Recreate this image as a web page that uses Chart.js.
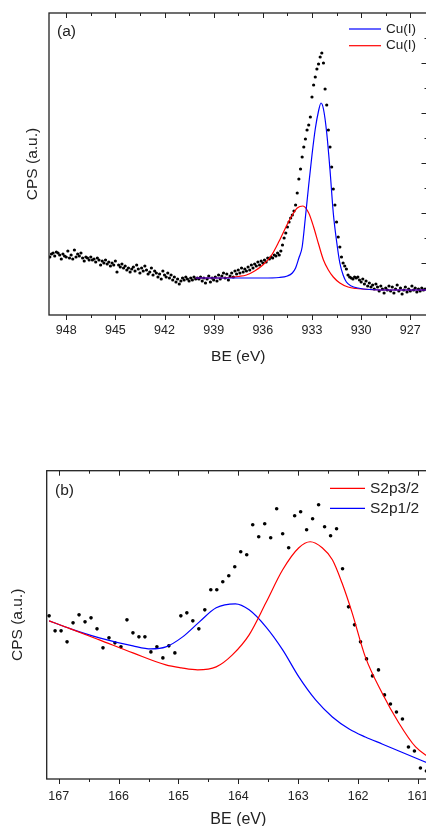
<!DOCTYPE html>
<html>
<head>
<meta charset="utf-8">
<script src="https://cdn.jsdelivr.net/npm/chart.js@4.4.1/dist/chart.umd.min.js"></script>
<style>
	html, body { margin: 0; padding: 0; background: #fff; overflow: hidden; width: 426px; height: 826px; }
	canvas { position: absolute; left: 0; }
	#chartCu { top: 0; }
	#chartS { top: 420px; }
</style>
</head>
<body>
<canvas id="chartCu" width="442" height="400"></canvas>
<canvas id="chartS" width="446" height="412"></canvas>
<script>
// ---- (a) Cu 2p3/2 : measured points (BE in eV, CPS in a.u.) ----
var beA = [
	949.0, 948.9, 948.8, 948.7, 948.6, 948.5, 948.4, 948.3, 948.2, 948.1,
	948.0, 947.9, 947.8, 947.7, 947.6, 947.5, 947.4, 947.3, 947.2, 947.1,
	947.0, 946.9, 946.8, 946.7, 946.6, 946.5, 946.4, 946.3, 946.2, 946.1,
	946.0, 945.9, 945.8, 945.7, 945.6, 945.5, 945.4, 945.3, 945.2, 945.1,
	945.0, 944.9, 944.8, 944.7, 944.6, 944.5, 944.4, 944.3, 944.2, 944.1,
	944.0, 943.9, 943.8, 943.7, 943.6, 943.5, 943.4, 943.3, 943.2, 943.1,
	943.0, 942.9, 942.8, 942.7, 942.6, 942.5, 942.4, 942.3, 942.2, 942.1,
	942.0, 941.9, 941.8, 941.7, 941.6, 941.5, 941.4, 941.3, 941.2, 941.1,
	941.0, 940.9, 940.8, 940.7, 940.6, 940.5, 940.4, 940.3, 940.2, 940.1,
	940.0, 939.9, 939.8, 939.7, 939.6, 939.5, 939.4, 939.3, 939.2, 939.1,
	939.0, 938.9, 938.8, 938.7, 938.6, 938.5, 938.4, 938.3, 938.2, 938.1,
	938.0, 937.9, 937.8, 937.7, 937.6, 937.5, 937.4, 937.3, 937.2, 937.1,
	937.0, 936.9, 936.8, 936.7, 936.6, 936.5, 936.4, 936.3, 936.2, 936.1,
	936.0, 935.9, 935.8, 935.7, 935.6, 935.5, 935.4, 935.3, 935.2, 935.1,
	935.0, 934.9, 934.8, 934.7, 934.6, 934.5, 934.4, 934.3, 934.2, 934.1,
	934.0, 933.9, 933.8, 933.7, 933.6, 933.5, 933.4, 933.3, 933.2, 933.1,
	933.0, 932.9, 932.8, 932.7, 932.6, 932.5, 932.4, 932.3, 932.2, 932.1,
	932.0, 931.9, 931.8, 931.7, 931.6, 931.5, 931.4, 931.3, 931.2, 931.1,
	931.0, 930.9, 930.8, 930.7, 930.6, 930.5, 930.4, 930.3, 930.2, 930.1,
	930.0, 929.9, 929.8, 929.7, 929.6, 929.5, 929.4, 929.3, 929.2, 929.1,
	929.0, 928.9, 928.8, 928.7, 928.6, 928.5, 928.4, 928.3, 928.2, 928.1,
	928.0, 927.9, 927.8, 927.7, 927.6, 927.5, 927.4, 927.3, 927.2, 927.1,
	927.0, 926.9, 926.8, 926.7, 926.6, 926.5, 926.4, 926.3, 926.2, 926.1
];
var cpsA = [
	58, 61, 62, 59, 63, 62, 60, 56, 61, 59,
	58, 64, 57, 60, 56, 65, 58, 61, 59, 62,
	57, 54, 58, 57, 55, 58, 55, 56, 53, 57,
	55, 50, 54, 52, 55, 51, 53, 49, 52, 50,
	54, 43, 50, 48, 51, 47, 49, 45, 47, 43,
	46, 48, 44, 50, 46, 42, 47, 44, 49, 45,
	41, 43, 47, 40, 44, 42, 38, 41, 36, 44,
	40, 38, 42, 37, 40, 35, 38, 33, 36, 31,
	34, 37, 35, 38, 36, 34, 37, 35, 38, 36,
	37, 36, 38, 34, 37, 32, 36, 39, 33, 37,
	35, 38, 34, 40, 36, 39, 42, 37, 41, 35,
	39, 42, 38, 44, 41, 45, 42, 47, 43, 46,
	44, 48, 45, 50, 47, 51, 49, 53, 50, 54,
	52, 55, 53, 57, 56, 58, 57, 60, 59, 62,
	60, 64, 70, 77, 82, 88, 93, 97, 100, 104,
	110, 122, 136, 146, 158, 168, 176, 185, 190, 198,
	218, 230, 238, 246, 251, 258, 262, 252, 226, 210,
	185, 168, 148, 126, 110, 93, 78, 68, 58, 52,
	49, 46, 40, 38, 37, 36, 38, 37, 38, 35,
	33, 36, 31, 34, 29, 32, 28, 30, 26, 31,
	28, 24, 29, 26, 22, 27, 25, 29, 24, 28,
	22, 26, 30, 24, 27, 21, 25, 28, 23, 26,
	24, 29, 25, 27, 23, 26, 24, 27, 25, 26
];
// (a) fitted components
var fit1BeA  = [940.1, 938.0, 936.0, 935.0, 934.5, 934.2, 934.0, 933.8, 933.6, 933.4, 933.2, 933.0, 932.8, 932.6, 932.45, 932.3, 932.1, 931.9, 931.7, 931.5, 931.3, 931.1, 930.9, 930.6, 930.2, 929.5, 928.0, 926.0];
var fit1CpsA = [37, 37, 37, 37.5, 39, 42, 47, 57, 68, 98, 130, 160, 186, 204, 212, 206, 182, 145, 102, 74, 52, 40, 33, 29, 27, 25.5, 25, 25];
var fit2BeA  = [940.1, 939.0, 938.0, 937.5, 937.0, 936.5, 936.0, 935.5, 935.0, 934.5, 934.2, 933.9, 933.55, 933.2, 932.9, 932.6, 932.3, 932.0, 931.7, 931.3, 930.8, 930.3, 929.5, 928.0, 926.0];
var fit2CpsA = [37, 37, 37.5, 38.5, 40, 44, 50, 59, 74, 91, 100, 107, 109, 102, 88, 71, 55, 45, 38, 32, 28, 26.5, 25.5, 25, 25];
var ticksA = [948, 945, 942, 939, 936, 933, 930, 927];
var minorTicksA = [946.5, 943.5, 940.5, 937.5, 934.5, 931.5, 928.5];
var rightTicksA = [52, 102, 152, 202, 252];
var rightMinorTicksA = [77, 127, 177, 227, 277];

// ---- (b) S 2p : measured points ----
var beB = [
	167.16, 167.06, 166.96, 166.86, 166.76, 166.66, 166.56, 166.46, 166.36, 166.26,
	166.16, 166.06, 165.96, 165.86, 165.76, 165.66, 165.56, 165.46, 165.36, 165.26,
	165.16, 165.06, 164.96, 164.86, 164.76, 164.66, 164.56, 164.46, 164.36, 164.26,
	164.16, 164.06, 163.96, 163.86, 163.76, 163.66, 163.56, 163.46, 163.36, 163.26,
	163.16, 163.06, 162.96, 162.86, 162.76, 162.66, 162.56, 162.46, 162.36, 162.26,
	162.16, 162.06, 161.96, 161.86, 161.76, 161.66, 161.56, 161.46, 161.36, 161.26,
	161.16, 161.06, 160.96, 160.86
];
var cpsB = [
	163, 148, 148, 137, 156, 164, 157, 161, 150, 131,
	141, 136, 132, 159, 146, 142, 142, 127, 132, 121,
	133, 126, 163, 166, 158, 150, 169, 189, 189, 197,
	203, 212, 227, 224, 254, 242, 255, 241, 270, 245,
	231, 263, 267, 249, 260, 274, 252, 243, 250, 210,
	172, 154, 137, 120, 103, 109, 84, 75, 67, 60,
	32, 28, 11, 8
];
// (b) fitted components
var s2p32BeB  = [167.16, 166.8, 166.32, 165.76, 165.21, 164.95, 164.68, 164.37, 164.10, 163.82, 163.54, 163.26, 162.99, 162.80, 162.60, 162.43, 162.27, 162.10, 161.88, 161.60, 161.32, 161.04, 160.8];
var s2p32CpsB = [158, 150, 139, 126, 114, 111, 109, 112, 124, 144, 176, 209, 231, 237, 231, 219, 196, 166, 122, 86, 56, 32, 21];
var s2p12BeB  = [167.16, 166.8, 166.32, 165.76, 165.46, 165.21, 164.93, 164.65, 164.37, 164.05, 163.82, 163.54, 163.26, 162.99, 162.71, 162.43, 162.15, 161.88, 161.60, 161.32, 161.04, 160.8];
var s2p12CpsB = [158, 150, 141, 133, 130, 132, 142, 157, 171, 175, 169, 152, 129, 102, 79, 62, 50, 42, 35, 28, 21, 15];
var ticksB = [167, 166, 165, 164, 163, 162, 161];
var minorTicksB = [166.5, 165.5, 164.5, 163.5, 162.5, 161.5];

var FONT = "'Liberation Sans', Arial, sans-serif";
var INK = '#222';

function _toPoints(xs, ys) {
	return xs.map(function(x, i) { return {x: x, y: ys[i]}; });
}

// frame with Origin-like ticks (bottom outward, top and right inward)
var frameTicks = {
	id: 'frameTicks',
	afterDatasetsDraw: function(chart, args, opts) {
		var ctx = chart.ctx;
		var a = chart.chartArea;
		var xs = chart.scales.x, ys = chart.scales.y;
		ctx.save();
		ctx.strokeStyle = INK;
		ctx.lineWidth = 1;
		ctx.beginPath();
		function xTick(v, len) {
			var px = Math.round(xs.getPixelForValue(v)) + 0.5;
			ctx.moveTo(px, a.bottom); ctx.lineTo(px, a.bottom + len);
			ctx.moveTo(px, a.top); ctx.lineTo(px, a.top + len);
		}
		function yTick(v, len) {
			var py = Math.round(ys.getPixelForValue(v)) + 0.5;
			ctx.moveTo(a.right, py); ctx.lineTo(a.right - len, py);
		}
		(opts.xMajor || []).forEach(function(v) { xTick(v, 5); });
		(opts.xMinor || []).forEach(function(v) { xTick(v, 3); });
		(opts.yMajor || []).forEach(function(v) { yTick(v, 6); });
		(opts.yMinor || []).forEach(function(v) { yTick(v, 3); });
		ctx.stroke();
		ctx.lineWidth = 1.3;
		ctx.strokeRect(a.left, a.top, a.right - a.left, a.bottom - a.top);
		ctx.restore();
	}
};

// legend lines inside the plot + panel tag
var insideLegend = {
	id: 'insideLegend',
	afterDraw: function(chart, args, opts) {
		var ctx = chart.ctx;
		ctx.save();
		ctx.textBaseline = 'middle';
		ctx.fillStyle = INK;
		ctx.font = opts.tagSize + 'px ' + FONT;
		ctx.fillText(opts.tag, opts.tagX, opts.tagY);
		ctx.font = opts.fontSize + 'px ' + FONT;
		var row = 0;
		chart.data.datasets.forEach(function(ds) {
			if (!ds.label) return;
			var y = opts.y + row * opts.rowGap;
			ctx.strokeStyle = ds.borderColor;
			ctx.lineWidth = ds.borderWidth;
			ctx.beginPath();
			ctx.moveTo(opts.x, y);
			ctx.lineTo(opts.x + opts.lineLength, y);
			ctx.stroke();
			ctx.fillText(ds.label, opts.x + opts.lineLength + opts.gap, y);
			row++;
		});
		ctx.restore();
	}
};

function _curve(label, color, xs, ys) {
	return {
		label: label,
		data: _toPoints(xs, ys),
		showLine: true,
		borderColor: color,
		borderWidth: 1.2,
		pointRadius: 0,
		cubicInterpolationMode: 'monotone'
	};
}

function _points(xs, ys, r) {
	return {
		data: _toPoints(xs, ys),
		showLine: false,
		pointRadius: r,
		pointBorderWidth: 0,
		pointBackgroundColor: '#000'
	};
}

function _config(p) {
	return {
		type: 'scatter',
		data: {datasets: p.datasets},
		options: {
			responsive: false,
			animation: false,
			events: [],
			layout: {padding: p.padding},
			plugins: {
				legend: {display: false},
				tooltip: {enabled: false},
				frameTicks: p.frame,
				insideLegend: p.legend
			},
			scales: {
				x: {
					type: 'linear',
					reverse: true,
					min: p.xMin,
					max: p.xMax,
					afterBuildTicks: function(s) { s.ticks = p.ticks.map(function(v) { return {value: v}; }); },
					afterFit: function(s) { s.height = p.xHeight; },
					grid: {display: false, drawTicks: false},
					border: {display: false},
					ticks: {
						autoSkip: false, maxRotation: 0, padding: p.tickPad, color: INK,
						font: {family: FONT, size: 12.5},
						callback: function(v) { return String(v); }
					},
					title: {
						display: true, text: 'BE (eV)', color: INK,
						font: {family: FONT, size: p.titleSize},
						padding: {top: 0, bottom: p.xTitlePad}
					}
				},
				y: {
					min: 0,
					max: p.yMax,
					afterFit: function(s) { s.width = p.yWidth; },
					grid: {display: false, drawTicks: false},
					border: {display: false},
					ticks: {display: false},
					title: {
						display: true, text: 'CPS (a.u.)', color: INK,
						font: {family: FONT, size: 15.5},
						padding: {top: p.yTitlePad, bottom: 0}
					}
				}
			}
		},
		plugins: [frameTicks, insideLegend]
	};
}

new Chart(document.getElementById('chartCu'), _config({
	datasets: [
		_curve('Cu(I)', '#0000ff', fit1BeA, fit1CpsA),
		_curve('Cu(I)', '#ff0000', fit2BeA, fit2CpsA),
		_points(beA, cpsA, 1.6)
	],
	padding: {top: 13, right: 14.5, bottom: 33, left: 0},
	xMin: 925.95, xMax: 949.05, ticks: ticksA,
	xHeight: 52, tickPad: 8.5, titleSize: 15.5, xTitlePad: 0.7,
	yMax: 302, yWidth: 49, yTitlePad: 23.2,
	frame: {xMajor: ticksA, xMinor: minorTicksA, yMajor: rightTicksA, yMinor: rightMinorTicksA},
	legend: {x: 349, y: 29, rowGap: 16.7, lineLength: 32, gap: 5, fontSize: 13.5, tag: '(a)', tagX: 57, tagY: 32, tagSize: 15.5}
}));

new Chart(document.getElementById('chartS'), _config({
	datasets: [
		_curve('S2p3/2', '#ff0000', s2p32BeB, s2p32CpsB),
		_curve('S2p1/2', '#0000ff', s2p12BeB, s2p12CpsB),
		_points(beB, cpsB, 1.8)
	],
	padding: {top: 50.7, right: 16, bottom: 3, left: 0},
	xMin: 160.8, xMax: 167.2, ticks: ticksB,
	xHeight: 50, tickPad: 10, titleSize: 16, xTitlePad: 0,
	yMax: 308, yWidth: 46.7, yTitlePad: 8.2,
	frame: {xMajor: ticksB, xMinor: minorTicksB, yMajor: [], yMinor: []},
	legend: {x: 330, y: 68.3, rowGap: 20, lineLength: 35, gap: 5, fontSize: 15.5, tag: '(b)', tagX: 55, tagY: 70.7, tagSize: 15.5}
}));
</script>
</body>
</html>
